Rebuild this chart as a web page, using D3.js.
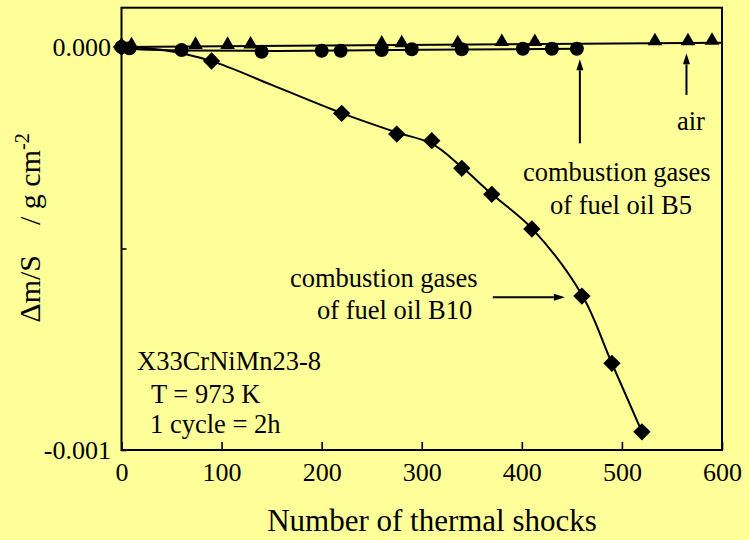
<!DOCTYPE html>
<html>
<head>
<meta charset="utf-8">
<script src="https://cdn.jsdelivr.net/npm/d3@7"></script>
<style>
  html, body { margin: 0; padding: 0; background: #FFFF99; }
  svg { display: block; }
  text { font-family: "Liberation Serif", "Times New Roman", serif; fill: #000; }
</style>
</head>
<body>
<svg id="chart" width="749" height="540"></svg>
<script>
// ---- data ----
const xTicks = [0, 100, 200, 300, 400, 500, 600];
const yTickLabels = ["0.000", "-0.001"];
const yTicks = [0, -0.0005, -0.001];

// air (triangles)
const airX = [0, 10, 74, 106, 129, 260, 280, 336, 380, 413, 533, 566, 590];
const airY = [0, 0.000001, 0.000002, 0.000002, 0.000003, 0.000005, 0.000006, 0.000006, 0.000009, 0.000009, 0.000011, 0.000011, 0.000012];
const airFitX = [0, 600];
const airFitY = [0, 0.0000105];

// combustion gases of fuel oil B5 (circles)
const b5X = [0, 8, 60, 140, 200, 219, 260, 290, 340, 401, 430, 455];
const b5Y = [0, -0.000003, -0.0000074, -0.0000117, -0.0000092, -0.0000092, -0.0000074, -0.0000057, -0.0000057, -0.0000042, -0.0000042, -0.0000042];
const b5FitX = [0, 20, 60, 150, 300, 455];
const b5FitY = [0, -0.000006, -0.0000085, -0.0000098, -0.0000068, -0.0000045];

// combustion gases of fuel oil B10 (diamonds)
const b10X = [0, 90, 220, 275, 310, 340, 370, 410, 460, 490, 520];
const b10Y = [0, -0.0000347, -0.0001645, -0.000216, -0.0002325, -0.000301, -0.0003655, -0.0004516, -0.000618, -0.000785, -0.000955];
const b10FitX = [0, 40, 90, 150, 220, 275, 310, 340, 370, 410, 460, 490, 520];
const b10FitY = [0, -0.000007, -0.000035, -0.000094, -0.000164, -0.000212, -0.000240, -0.000298, -0.000365, -0.00045, -0.000615, -0.000785, -0.000955];

// annotation arrows: [xFrom, yFrom, xTo, yTo]
const arrowB5 = [458, -0.000239, 458, -0.0000305];
const arrowAir = [564.5, -0.000119, 564.5, -0.0000156];
const arrowB10 = [371, -0.000621, 443, -0.000621];

// ---- drawing ----
const svg = d3.select("#chart");
const x = d3.scaleLinear().domain([0, 600]).range([121.5, 722]);
const y = d3.scaleLinear().domain([-0.001, 0]).range([450, 47]);
const yTop = 0.0000975;

svg.append("rect").attr("width", 749).attr("height", 540).attr("fill", "#FFFF99");

// frame
svg.append("rect")
  .attr("x", x(0)).attr("y", y(yTop))
  .attr("width", x(600) - x(0)).attr("height", y(-0.001) - y(yTop))
  .attr("fill", "none").attr("stroke", "#000").attr("stroke-width", 2);

// x axis
const xAxis = d3.axisBottom(x).tickValues(xTicks).tickSizeInner(-8).tickSizeOuter(0).tickPadding(14)
  .tickFormat(d3.format("d"));
const gx = svg.append("g").attr("transform", `translate(0,${y(-0.001)})`).call(xAxis);
gx.select(".domain").remove();
gx.selectAll(".tick line").attr("stroke", "#000").attr("stroke-width", 1.6);
gx.selectAll(".tick text").attr("font-size", 26).attr("font-family", "Liberation Serif").attr("dy", "0.71em").attr("y", 13);

// y axis
const yAxis = d3.axisLeft(y).tickValues(yTicks).tickSizeInner(-5).tickSizeOuter(0).tickPadding(10)
  .tickFormat(d => d === 0 ? yTickLabels[0] : (d === -0.001 ? yTickLabels[1] : ""));
const gy = svg.append("g").attr("transform", `translate(${x(0)},0)`).call(yAxis);
gy.select(".domain").remove();
gy.selectAll(".tick line").attr("stroke", "#000").attr("stroke-width", 1.6);
gy.selectAll(".tick text").attr("font-size", 26).attr("font-family", "Liberation Serif").attr("x", -10.5).attr("dy", "0.34em");

// lines
const zip = (a, b) => a.map((v, i) => [v, b[i]]);

svg.append("path").datum(zip(airFitX, airFitY))
  .attr("d", d3.line().x(d => x(d[0])).y(d => y(d[1])))
  .attr("fill", "none").attr("stroke", "#000").attr("stroke-width", 2);
svg.append("path").datum(zip(b5FitX, b5FitY))
  .attr("d", d3.line().x(d => x(d[0])).y(d => y(d[1])).curve(d3.curveMonotoneX))
  .attr("fill", "none").attr("stroke", "#000").attr("stroke-width", 2);
svg.append("path").datum(zip(b10FitX, b10FitY))
  .attr("d", d3.line().x(d => x(d[0])).y(d => y(d[1])).curve(d3.curveCatmullRom.alpha(0.5)))
  .attr("fill", "none").attr("stroke", "#000").attr("stroke-width", 2);

// markers
const tri = d3.symbol().type(d3.symbolTriangle).size(92)();
const circ = d3.symbol().type(d3.symbolCircle).size(Math.PI * 7 * 7)();
const sq = d3.symbol().type(d3.symbolSquare).size(150)();

svg.append("g").selectAll("path").data(zip(b10X, b10Y)).join("path")
  .attr("d", sq).attr("transform", d => `translate(${x(d[0])},${y(d[1])}) rotate(45)`).attr("fill", "#000");
svg.append("g").selectAll("path").data(zip(b5X, b5Y)).join("path")
  .attr("d", circ).attr("transform", d => `translate(${x(d[0])},${y(d[1])})`).attr("fill", "#000");
svg.append("g").selectAll("path").data(zip(airX, airY)).join("path")
  .attr("d", tri).attr("transform", d => `translate(${x(d[0])},${y(d[1]) - 1.5})`).attr("fill", "#000");

// arrows
function arrow(a) {
  const x1 = x(a[0]), y1 = y(a[1]), x2 = x(a[2]), y2 = y(a[3]);
  const ang = Math.atan2(y2 - y1, x2 - x1);
  const L = 11, W = 3.5;
  const bx = x2 - L * Math.cos(ang), by = y2 - L * Math.sin(ang);
  svg.append("line").attr("x1", x1).attr("y1", y1).attr("x2", bx).attr("y2", by)
    .attr("stroke", "#000").attr("stroke-width", 2);
  const px = -Math.sin(ang) * W, py = Math.cos(ang) * W;
  svg.append("path")
    .attr("d", `M${x2},${y2}L${bx + px},${by + py}L${bx - px},${by - py}Z`)
    .attr("fill", "#000");
}
arrow(arrowB5); arrow(arrowAir); arrow(arrowB10);

// annotations
const fs = 26.5;
function txt(s, tx, ty, anchor) {
  return svg.append("text").attr("x", tx).attr("y", ty).attr("font-size", fs)
    .attr("text-anchor", anchor || "start").text(s);
}
txt("air", 677, 130);
txt("combustion gases", 523, 181);
txt("of fuel oil B5", 550, 214);
txt("combustion gases", 290, 287);
txt("of fuel oil B10", 317, 318.5);
txt("X33CrNiMn23-8", 137, 369.5);
txt("T = 973 K", 151, 402.5);
txt("1 cycle = 2h", 150, 432.5);

// axis titles
svg.append("text").attr("x", 432).attr("y", 531).attr("text-anchor", "middle")
  .attr("font-size", 31).text("Number of thermal shocks");

const yt = svg.append("text").attr("transform", "translate(40,228) rotate(-90)")
  .attr("text-anchor", "middle").attr("font-size", 30);
yt.append("tspan").text("\u0394m/S");
yt.append("tspan").attr("dx", 30).text("/ g cm");
yt.append("tspan").attr("dy", -11).attr("font-size", 20).text("-2");
</script>
</body>
</html>
